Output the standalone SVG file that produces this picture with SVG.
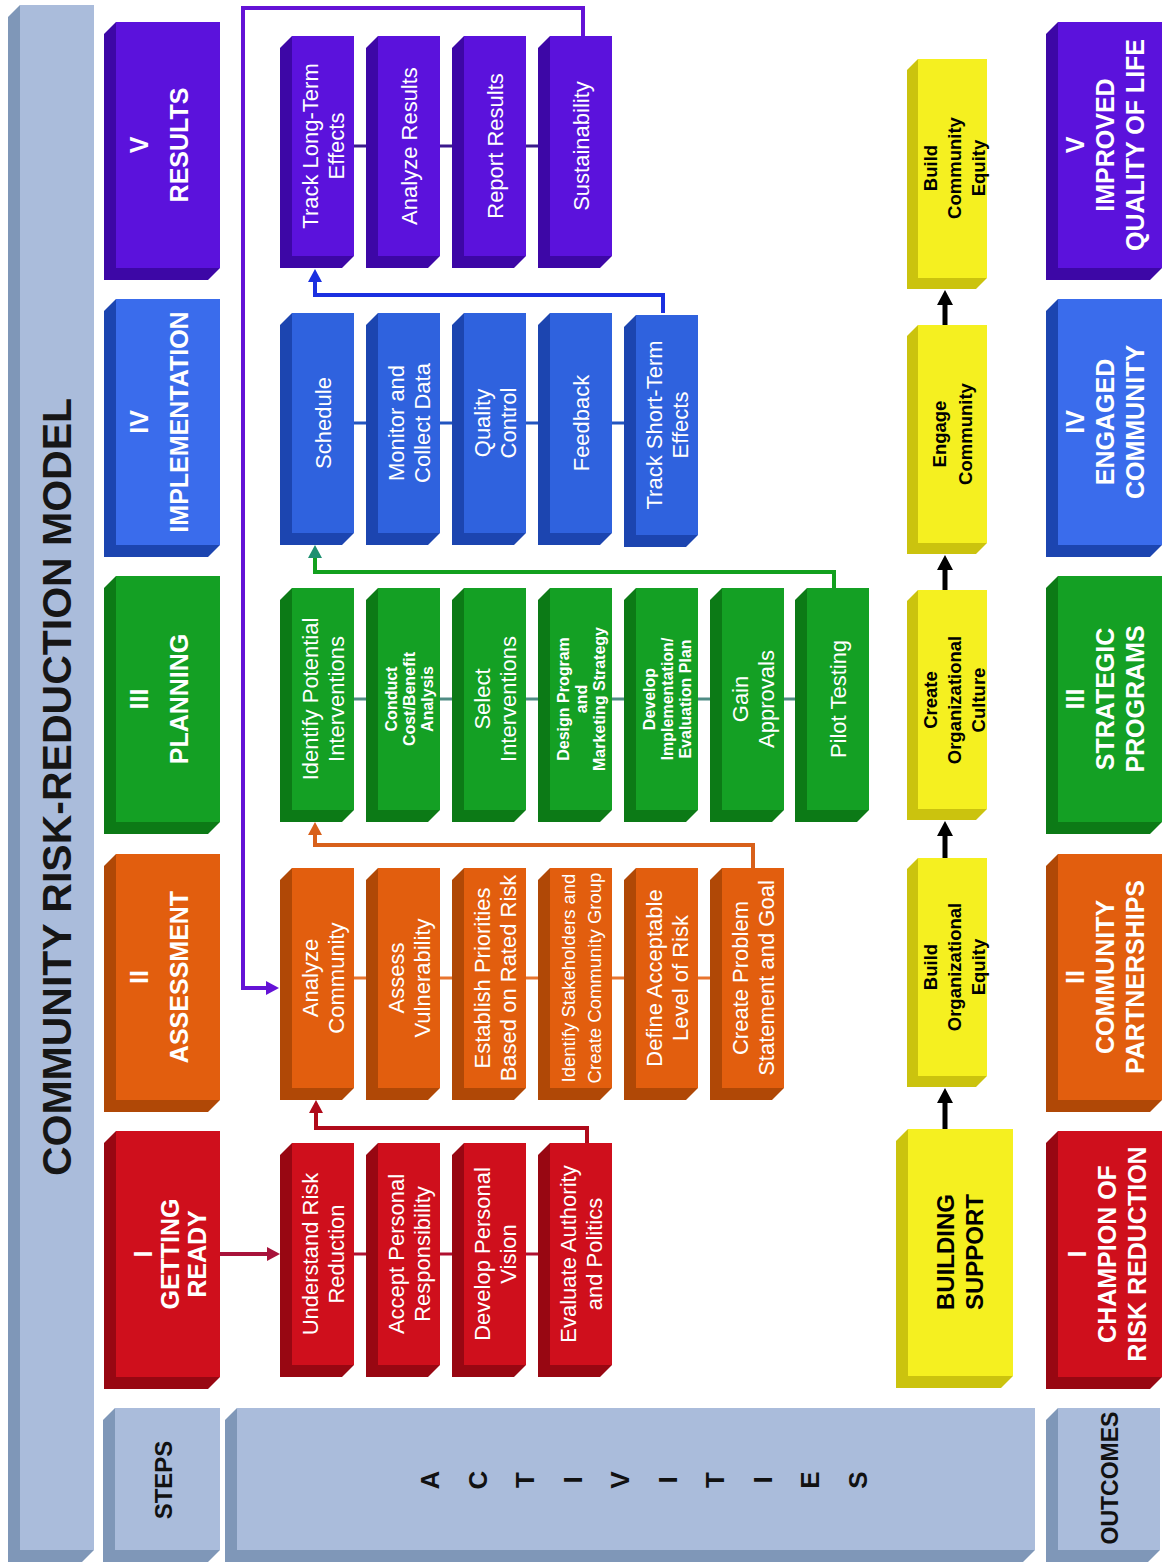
<svg xmlns="http://www.w3.org/2000/svg" width="1165" height="1564" viewBox="0 0 1165 1564">
<style>
.t{font-family:"Liberation Sans",Arial,sans-serif;text-anchor:middle;dominant-baseline:central}
.a{font-size:22px;fill:#fff}
.as{font-size:16px;font-weight:bold;fill:#fff}
.am{font-size:18.5px;fill:#fff}
.st{font-size:25px;font-weight:bold;fill:#fff}
.y{font-size:18.5px;font-weight:bold;fill:#000}
.ys{font-size:24px;font-weight:bold;fill:#000}
.k{font-size:24px;font-weight:bold;fill:#111}
.ttl{font-size:41px;font-weight:bold;fill:#161616}
.fp{fill:#5b12dc}.sp{fill:#3d07a6}
.fb{fill:#2f62de}.sb{fill:#1c45b0}
.fb2{fill:#3a6cec}
.fg{fill:#14a024}.sg{fill:#0c7a16}
.fo{fill:#e25e0e}.so{fill:#b04806}
.fr{fill:#cf0f1c}.sr{fill:#980712}
.fy{fill:#f5f020}.sy{fill:#cbc30e}
.fl{fill:#aabcdb}.sl{fill:#7f97b8}
.ln{fill:none;stroke-width:3}
.lp{fill:none;stroke-width:4;stroke-linejoin:miter}
</style>
<defs>
<marker id="mP" markerUnits="userSpaceOnUse" markerWidth="14" markerHeight="16" viewBox="0 0 14 16" refX="0" refY="8" orient="auto"><path d="M0,1 L13,8 L0,15 z" fill="#6412d6"/></marker>
<marker id="mB" markerUnits="userSpaceOnUse" markerWidth="14" markerHeight="16" viewBox="0 0 14 16" refX="0" refY="8" orient="auto"><path d="M0,1 L13,8 L0,15 z" fill="#1a30e0"/></marker>
<marker id="mG" markerUnits="userSpaceOnUse" markerWidth="14" markerHeight="16" viewBox="0 0 14 16" refX="0" refY="8" orient="auto"><path d="M0,1 L13,8 L0,15 z" fill="#1e9070"/></marker>
<marker id="mO" markerUnits="userSpaceOnUse" markerWidth="14" markerHeight="16" viewBox="0 0 14 16" refX="0" refY="8" orient="auto"><path d="M0,1 L13,8 L0,15 z" fill="#d8601a"/></marker>
<marker id="mR" markerUnits="userSpaceOnUse" markerWidth="14" markerHeight="16" viewBox="0 0 14 16" refX="0" refY="8" orient="auto"><path d="M0,1 L13,8 L0,15 z" fill="#b00a1a"/></marker>
<marker id="mC" markerUnits="userSpaceOnUse" markerWidth="14" markerHeight="16" viewBox="0 0 14 16" refX="0" refY="8" orient="auto"><path d="M0,1 L13,8 L0,15 z" fill="#a8123a"/></marker>
<marker id="mK" markerUnits="userSpaceOnUse" markerWidth="16" markerHeight="18" viewBox="0 0 16 18" refX="0" refY="9" orient="auto"><path d="M0,1 L15,9 L0,17 z" fill="#000"/></marker>
</defs>
<rect width="1165" height="1564" fill="#fff"/>

<g id="connectors">
<line class="ln" x1="300" y1="146" x2="560" y2="146" stroke="#3a1a8c"/>
<line class="ln" x1="300" y1="423" x2="646" y2="423" stroke="#2255c0"/>
<line class="ln" x1="300" y1="699" x2="817" y2="699" stroke="#4f8c84"/>
<line class="ln" x1="300" y1="978" x2="732" y2="978" stroke="#e8742e"/>
<line class="ln" x1="300" y1="1254" x2="560" y2="1254" stroke="#b01030"/>
<path class="lp" d="M583,36 V8 H243 V988 H266" stroke="#6412d6" marker-end="url(#mP)"/>
<path class="lp" d="M663,313 V295 H315 V282" stroke="#1a30e0" marker-end="url(#mB)"/>
<path class="lp" d="M834,588 V572 H315 V558" stroke="#12a01e" marker-end="url(#mG)"/>
<path class="lp" d="M753,868 V845 H315 V835" stroke="#d8601a" marker-end="url(#mO)"/>
<path class="lp" d="M587,1143 V1128 H316 V1113" stroke="#b00a1a" marker-end="url(#mR)"/>
<path class="lp" d="M220,1254 H267" stroke="#a8123a" marker-end="url(#mC)"/>
<path d="M945,325 V305" stroke="#000" stroke-width="5" fill="none" marker-end="url(#mK)"/>
<path d="M945,590 V570" stroke="#000" stroke-width="5" fill="none" marker-end="url(#mK)"/>
<path d="M945,858 V836" stroke="#000" stroke-width="5" fill="none" marker-end="url(#mK)"/>
<path d="M945,1129 V1103" stroke="#000" stroke-width="5" fill="none" marker-end="url(#mK)"/>
</g>

<g id="title">
<path class="sl" d="M20,5 h74 v1545 l-12,12 h-74 v-1545 z"/><rect class="fl" x="20" y="5" width="74" height="1545"/>
<text class="t ttl" transform="translate(57,787) rotate(-90)">COMMUNITY RISK-REDUCTION MODEL</text>
</g>

<g id="step-results">
<path class="sp" d="M116,22 h104 v246 l-12,12 h-104 v-246 z"/><rect class="fp" x="116" y="22" width="104" height="246"/>
<text class="t st" transform="translate(0,145) rotate(-90)"><tspan x="0" y="139">V</tspan><tspan x="0" y="179">RESULTS</tspan></text>
</g>
<g id="step-implementation">
<path class="sb" d="M116,299 h104 v246 l-12,12 h-104 v-246 z"/><rect class="fb2" x="116" y="299" width="104" height="246"/>
<text class="t st" transform="translate(0,422) rotate(-90)"><tspan x="0" y="139">IV</tspan><tspan x="0" y="179">IMPLEMENTATION</tspan></text>
</g>
<g id="step-planning">
<path class="sg" d="M116,576 h104 v246 l-12,12 h-104 v-246 z"/><rect class="fg" x="116" y="576" width="104" height="246"/>
<text class="t st" transform="translate(0,699) rotate(-90)"><tspan x="0" y="139">III</tspan><tspan x="0" y="179">PLANNING</tspan></text>
</g>
<g id="step-assessment">
<path class="so" d="M116,854 h104 v246 l-12,12 h-104 v-246 z"/><rect class="fo" x="116" y="854" width="104" height="246"/>
<text class="t st" transform="translate(0,977) rotate(-90)"><tspan x="0" y="139">II</tspan><tspan x="0" y="179">ASSESSMENT</tspan></text>
</g>
<g id="step-getting-ready">
<path class="sr" d="M116,1131 h104 v246 l-12,12 h-104 v-246 z"/><rect class="fr" x="116" y="1131" width="104" height="246"/>
<text class="t st" transform="translate(0,1254) rotate(-90)"><tspan x="0" y="143">I</tspan><tspan x="0" y="170">GETTING</tspan><tspan x="0" y="197">READY</tspan></text>
</g>

<!-- Results activities -->
<g id="track-long-term">
<path class="sp" d="M292,36 h62 v220 l-12,12 h-62 v-220 z"/><rect class="fp" x="292" y="36" width="62" height="220"/>
<text class="t a" transform="translate(0,146) rotate(-90)"><tspan x="0" y="310">Track Long-Term</tspan><tspan x="0" y="336">Effects</tspan></text>
</g>
<g id="analyze-results">
<path class="sp" d="M378,36 h62 v220 l-12,12 h-62 v-220 z"/><rect class="fp" x="378" y="36" width="62" height="220"/>
<text class="t a" transform="translate(0,146) rotate(-90)"><tspan x="0" y="409">Analyze Results</tspan></text>
</g>
<g id="report-results">
<path class="sp" d="M464,36 h62 v220 l-12,12 h-62 v-220 z"/><rect class="fp" x="464" y="36" width="62" height="220"/>
<text class="t a" transform="translate(0,146) rotate(-90)"><tspan x="0" y="495">Report Results</tspan></text>
</g>
<g id="sustainability">
<path class="sp" d="M550,36 h62 v220 l-12,12 h-62 v-220 z"/><rect class="fp" x="550" y="36" width="62" height="220"/>
<text class="t a" transform="translate(0,146) rotate(-90)"><tspan x="0" y="581">Sustainability</tspan></text>
</g>

<!-- Implementation activities -->
<g id="schedule">
<path class="sb" d="M292,313 h62 v220 l-12,12 h-62 v-220 z"/><rect class="fb" x="292" y="313" width="62" height="220"/>
<text class="t a" transform="translate(0,423) rotate(-90)"><tspan x="0" y="323">Schedule</tspan></text>
</g>
<g id="monitor">
<path class="sb" d="M378,313 h62 v220 l-12,12 h-62 v-220 z"/><rect class="fb" x="378" y="313" width="62" height="220"/>
<text class="t a" transform="translate(0,423) rotate(-90)"><tspan x="0" y="396">Monitor and</tspan><tspan x="0" y="422">Collect Data</tspan></text>
</g>
<g id="quality">
<path class="sb" d="M464,313 h62 v220 l-12,12 h-62 v-220 z"/><rect class="fb" x="464" y="313" width="62" height="220"/>
<text class="t a" transform="translate(0,423) rotate(-90)"><tspan x="0" y="482">Quality</tspan><tspan x="0" y="508">Control</tspan></text>
</g>
<g id="feedback">
<path class="sb" d="M550,313 h62 v220 l-12,12 h-62 v-220 z"/><rect class="fb" x="550" y="313" width="62" height="220"/>
<text class="t a" transform="translate(0,423) rotate(-90)"><tspan x="0" y="581">Feedback</tspan></text>
</g>
<g id="track-short-term">
<path class="sb" d="M636,315 h62 v220 l-12,12 h-62 v-220 z"/><rect class="fb" x="636" y="315" width="62" height="220"/>
<text class="t a" transform="translate(0,425) rotate(-90)"><tspan x="0" y="654">Track Short-Term</tspan><tspan x="0" y="680">Effects</tspan></text>
</g>

<!-- Planning activities -->
<g id="identify-interventions">
<path class="sg" d="M292,588 h62 v222 l-12,12 h-62 v-222 z"/><rect class="fg" x="292" y="588" width="62" height="222"/>
<text class="t a" transform="translate(0,699) rotate(-90)"><tspan x="0" y="310">Identify Potential</tspan><tspan x="0" y="336">Interventions</tspan></text>
</g>
<g id="cost-benefit">
<path class="sg" d="M378,588 h62 v222 l-12,12 h-62 v-222 z"/><rect class="fg" x="378" y="588" width="62" height="222"/>
<text class="t as" transform="translate(0,699) rotate(-90)"><tspan x="0" y="391">Conduct</tspan><tspan x="0" y="409">Cost/Benefit</tspan><tspan x="0" y="427">Analysis</tspan></text>
</g>
<g id="select-interventions">
<path class="sg" d="M464,588 h62 v222 l-12,12 h-62 v-222 z"/><rect class="fg" x="464" y="588" width="62" height="222"/>
<text class="t a" transform="translate(0,699) rotate(-90)"><tspan x="0" y="482">Select</tspan><tspan x="0" y="508">Interventions</tspan></text>
</g>
<g id="design-program">
<path class="sg" d="M550,588 h62 v222 l-12,12 h-62 v-222 z"/><rect class="fg" x="550" y="588" width="62" height="222"/>
<text class="t as" transform="translate(0,699) rotate(-90)"><tspan x="0" y="563">Design Program</tspan><tspan x="0" y="581">and</tspan><tspan x="0" y="599">Marketing Strategy</tspan></text>
</g>
<g id="develop-plan">
<path class="sg" d="M636,588 h62 v222 l-12,12 h-62 v-222 z"/><rect class="fg" x="636" y="588" width="62" height="222"/>
<text class="t as" transform="translate(0,699) rotate(-90)"><tspan x="0" y="649">Develop</tspan><tspan x="0" y="667">Implementation/</tspan><tspan x="0" y="685">Evaluation Plan</tspan></text>
</g>
<g id="gain-approvals">
<path class="sg" d="M722,588 h62 v222 l-12,12 h-62 v-222 z"/><rect class="fg" x="722" y="588" width="62" height="222"/>
<text class="t a" transform="translate(0,699) rotate(-90)"><tspan x="0" y="740">Gain</tspan><tspan x="0" y="766">Approvals</tspan></text>
</g>
<g id="pilot-testing">
<path class="sg" d="M807,588 h62 v222 l-12,12 h-62 v-222 z"/><rect class="fg" x="807" y="588" width="62" height="222"/>
<text class="t a" transform="translate(0,699) rotate(-90)"><tspan x="0" y="838">Pilot Testing</tspan></text>
</g>

<!-- Assessment activities -->
<g id="analyze-community">
<path class="so" d="M292,868 h62 v220 l-12,12 h-62 v-220 z"/><rect class="fo" x="292" y="868" width="62" height="220"/>
<text class="t a" transform="translate(0,978) rotate(-90)"><tspan x="0" y="310">Analyze</tspan><tspan x="0" y="336">Community</tspan></text>
</g>
<g id="assess-vulnerability">
<path class="so" d="M378,868 h62 v220 l-12,12 h-62 v-220 z"/><rect class="fo" x="378" y="868" width="62" height="220"/>
<text class="t a" transform="translate(0,978) rotate(-90)"><tspan x="0" y="396">Assess</tspan><tspan x="0" y="422">Vulnerability</tspan></text>
</g>
<g id="establish-priorities">
<path class="so" d="M464,868 h62 v220 l-12,12 h-62 v-220 z"/><rect class="fo" x="464" y="868" width="62" height="220"/>
<text class="t a" transform="translate(0,978) rotate(-90)"><tspan x="0" y="482">Establish Priorities</tspan><tspan x="0" y="508">Based on Rated Risk</tspan></text>
</g>
<g id="identify-stakeholders">
<path class="so" d="M550,868 h62 v220 l-12,12 h-62 v-220 z"/><rect class="fo" x="550" y="868" width="62" height="220"/>
<text class="t am" transform="translate(0,978) rotate(-90)"><tspan x="0" y="568">Identify Stakeholders and</tspan><tspan x="0" y="594">Create Community Group</tspan></text>
</g>
<g id="define-risk">
<path class="so" d="M636,868 h62 v220 l-12,12 h-62 v-220 z"/><rect class="fo" x="636" y="868" width="62" height="220"/>
<text class="t a" transform="translate(0,978) rotate(-90)"><tspan x="0" y="654">Define Acceptable</tspan><tspan x="0" y="680">Level of Risk</tspan></text>
</g>
<g id="create-problem">
<path class="so" d="M722,868 h62 v220 l-12,12 h-62 v-220 z"/><rect class="fo" x="722" y="868" width="62" height="220"/>
<text class="t a" transform="translate(0,978) rotate(-90)"><tspan x="0" y="740">Create Problem</tspan><tspan x="0" y="766">Statement and Goal</tspan></text>
</g>

<!-- Getting Ready activities -->
<g id="understand-risk">
<path class="sr" d="M292,1143 h62 v222 l-12,12 h-62 v-222 z"/><rect class="fr" x="292" y="1143" width="62" height="222"/>
<text class="t a" transform="translate(0,1254) rotate(-90)"><tspan x="0" y="310">Understand Risk</tspan><tspan x="0" y="336">Reduction</tspan></text>
</g>
<g id="accept-responsibility">
<path class="sr" d="M378,1143 h62 v222 l-12,12 h-62 v-222 z"/><rect class="fr" x="378" y="1143" width="62" height="222"/>
<text class="t a" transform="translate(0,1254) rotate(-90)"><tspan x="0" y="396">Accept Personal</tspan><tspan x="0" y="422">Responsibility</tspan></text>
</g>
<g id="develop-vision">
<path class="sr" d="M464,1143 h62 v222 l-12,12 h-62 v-222 z"/><rect class="fr" x="464" y="1143" width="62" height="222"/>
<text class="t a" transform="translate(0,1254) rotate(-90)"><tspan x="0" y="482">Develop Personal</tspan><tspan x="0" y="508">Vision</tspan></text>
</g>
<g id="evaluate-authority">
<path class="sr" d="M550,1143 h62 v222 l-12,12 h-62 v-222 z"/><rect class="fr" x="550" y="1143" width="62" height="222"/>
<text class="t a" transform="translate(0,1254) rotate(-90)"><tspan x="0" y="568">Evaluate Authority</tspan><tspan x="0" y="594">and Politics</tspan></text>
</g>

<!-- Yellow column -->
<g id="build-community-equity">
<path class="sy" d="M918,59 h69 v219 l-11,11 h-69 v-219 z"/><rect class="fy" x="918" y="59" width="69" height="219"/>
<text class="t y" transform="translate(0,168) rotate(-90)"><tspan x="0" y="930">Build</tspan><tspan x="0" y="954">Community</tspan><tspan x="0" y="978">Equity</tspan></text>
</g>
<g id="engage-community">
<path class="sy" d="M918,325 h69 v218 l-11,11 h-69 v-218 z"/><rect class="fy" x="918" y="325" width="69" height="218"/>
<text class="t y" transform="translate(0,434) rotate(-90)"><tspan x="0" y="939">Engage</tspan><tspan x="0" y="965">Community</tspan></text>
</g>
<g id="create-culture">
<path class="sy" d="M918,590 h69 v219 l-11,11 h-69 v-219 z"/><rect class="fy" x="918" y="590" width="69" height="219"/>
<text class="t y" transform="translate(0,700) rotate(-90)"><tspan x="0" y="930">Create</tspan><tspan x="0" y="954">Organizational</tspan><tspan x="0" y="978">Culture</tspan></text>
</g>
<g id="build-org-equity">
<path class="sy" d="M918,858 h69 v218 l-11,11 h-69 v-218 z"/><rect class="fy" x="918" y="858" width="69" height="218"/>
<text class="t y" transform="translate(0,967) rotate(-90)"><tspan x="0" y="930">Build</tspan><tspan x="0" y="954">Organizational</tspan><tspan x="0" y="978">Equity</tspan></text>
</g>
<g id="building-support">
<path class="sy" d="M908,1129 h105 v247 l-12,12 h-105 v-247 z"/><rect class="fy" x="908" y="1129" width="105" height="247"/>
<text class="t ys" transform="translate(0,1252) rotate(-90)"><tspan x="0" y="945">BUILDING</tspan><tspan x="0" y="974">SUPPORT</tspan></text>
</g>

<!-- Outcomes -->
<g id="out-quality">
<path class="sp" d="M1058,22 h104 v246 l-12,12 h-104 v-246 z"/><rect class="fp" x="1058" y="22" width="104" height="246"/>
<text class="t st" transform="translate(0,145) rotate(-90)"><tspan x="0" y="1075">V</tspan><tspan x="0" y="1105">IMPROVED</tspan><tspan x="0" y="1135">QUALITY OF LIFE</tspan></text>
</g>
<g id="out-engaged">
<path class="sb" d="M1058,299 h104 v246 l-12,12 h-104 v-246 z"/><rect class="fb2" x="1058" y="299" width="104" height="246"/>
<text class="t st" transform="translate(0,422) rotate(-90)"><tspan x="0" y="1075">IV</tspan><tspan x="0" y="1105">ENGAGED</tspan><tspan x="0" y="1135">COMMUNITY</tspan></text>
</g>
<g id="out-strategic">
<path class="sg" d="M1058,576 h104 v246 l-12,12 h-104 v-246 z"/><rect class="fg" x="1058" y="576" width="104" height="246"/>
<text class="t st" transform="translate(0,699) rotate(-90)"><tspan x="0" y="1075">III</tspan><tspan x="0" y="1105">STRATEGIC</tspan><tspan x="0" y="1135">PROGRAMS</tspan></text>
</g>
<g id="out-partnerships">
<path class="so" d="M1058,854 h104 v246 l-12,12 h-104 v-246 z"/><rect class="fo" x="1058" y="854" width="104" height="246"/>
<text class="t st" transform="translate(0,977) rotate(-90)"><tspan x="0" y="1075">II</tspan><tspan x="0" y="1105">COMMUNITY</tspan><tspan x="0" y="1135">PARTNERSHIPS</tspan></text>
</g>
<g id="out-champion">
<path class="sr" d="M1058,1131 h104 v246 l-12,12 h-104 v-246 z"/><rect class="fr" x="1058" y="1131" width="104" height="246"/>
<text class="t st" transform="translate(0,1254) rotate(-90)"><tspan x="0" y="1077">I</tspan><tspan x="0" y="1107">CHAMPION OF</tspan><tspan x="0" y="1137">RISK REDUCTION</tspan></text>
</g>

<!-- Bottom labels -->
<g id="steps-label">
<path class="sl" d="M115,1408 h105 v142 l-12,12 h-105 v-142 z"/><rect class="fl" x="115" y="1408" width="105" height="142"/>
<text class="t k" transform="translate(163,1480) rotate(-90)">STEPS</text>
</g>
<g id="activities-label">
<path class="sl" d="M237,1408 h798 v142 l-12,12 h-798 v-142 z"/><rect class="fl" x="237" y="1408" width="798" height="142"/>
<text class="t k" style="font-size:26px" transform="translate(430,1480) rotate(-90)">A</text>
<text class="t k" style="font-size:26px" transform="translate(477.5,1480) rotate(-90)">C</text>
<text class="t k" style="font-size:26px" transform="translate(525,1480) rotate(-90)">T</text>
<text class="t k" style="font-size:26px" transform="translate(572.5,1480) rotate(-90)">I</text>
<text class="t k" style="font-size:26px" transform="translate(620,1480) rotate(-90)">V</text>
<text class="t k" style="font-size:26px" transform="translate(667.5,1480) rotate(-90)">I</text>
<text class="t k" style="font-size:26px" transform="translate(715,1480) rotate(-90)">T</text>
<text class="t k" style="font-size:26px" transform="translate(762.5,1480) rotate(-90)">I</text>
<text class="t k" style="font-size:26px" transform="translate(810,1480) rotate(-90)">E</text>
<text class="t k" style="font-size:26px" transform="translate(857.5,1480) rotate(-90)">S</text>
</g>
<g id="outcomes-label">
<path class="sl" d="M1058,1408 h102 v142 l-12,12 h-102 v-142 z"/><rect class="fl" x="1058" y="1408" width="102" height="142"/>
<text class="t k" style="font-size:23px" transform="translate(1110,1478) rotate(-90)">OUTCOMES</text>
</g>
</svg>
